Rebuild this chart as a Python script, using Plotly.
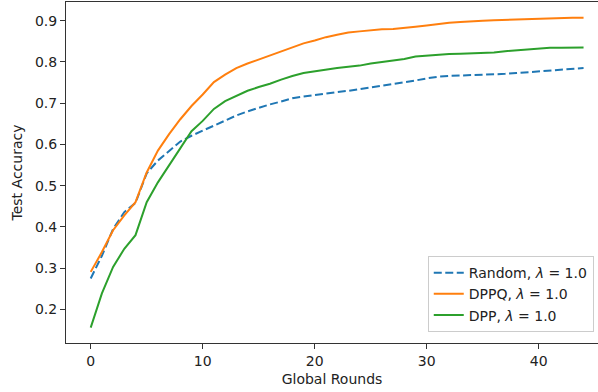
import plotly.graph_objects as go

rounds = list(range(45))

random_acc = [0.275, 0.330, 0.395, 0.436, 0.458, 0.530, 0.561, 0.585, 0.607, 0.621,
              0.633, 0.646, 0.658, 0.670, 0.680, 0.689, 0.697, 0.704, 0.712, 0.716,
              0.720, 0.723, 0.727, 0.730, 0.734, 0.738, 0.743, 0.747, 0.751, 0.755,
              0.760, 0.764, 0.766, 0.767, 0.768, 0.768, 0.769, 0.771, 0.773, 0.775,
              0.776, 0.778, 0.780, 0.782, 0.785]

dppq_acc = [0.291, 0.339, 0.392, 0.428, 0.460, 0.532, 0.585, 0.625, 0.661, 0.693,
            0.721, 0.751, 0.769, 0.785, 0.796, 0.806, 0.815, 0.826, 0.836, 0.845,
            0.852, 0.860, 0.866, 0.871, 0.874, 0.877, 0.879, 0.880, 0.882, 0.885,
            0.888, 0.892, 0.895, 0.897, 0.899, 0.900, 0.901, 0.902, 0.903, 0.904,
            0.905, 0.906, 0.906, 0.907, 0.907]

dpp_acc = [0.156, 0.239, 0.303, 0.347, 0.380, 0.460, 0.508, 0.549, 0.593, 0.632,
           0.657, 0.686, 0.705, 0.718, 0.730, 0.739, 0.747, 0.757, 0.766, 0.773,
           0.777, 0.782, 0.785, 0.788, 0.791, 0.796, 0.800, 0.803, 0.807, 0.813,
           0.815, 0.818, 0.819, 0.820, 0.821, 0.822, 0.823, 0.826, 0.828, 0.831,
           0.833, 0.834, 0.834, 0.834, 0.835]

series_names = ["Random, <i>λ</i> = 1.0", "DPPQ, <i>λ</i> = 1.0", "DPP, <i>λ</i> = 1.0"]
x_ticks = [0, 10, 20, 30, 40]
y_ticks = [0.2, 0.3, 0.4, 0.5, 0.6, 0.7, 0.8, 0.9]

fig = go.Figure()
fig.add_trace(go.Scatter(x=rounds, y=random_acc, mode="lines", name=series_names[0],
                         line=dict(color="#1f77b4", width=2, dash="8px,3.5px")))
fig.add_trace(go.Scatter(x=rounds, y=dppq_acc, mode="lines", name=series_names[1],
                         line=dict(color="#ff7f0e", width=2)))
fig.add_trace(go.Scatter(x=rounds, y=dpp_acc, mode="lines", name=series_names[2],
                         line=dict(color="#2ca02c", width=2)))

txt = dict(family="DejaVu Sans", size=14, color="#222222")

fig.update_layout(
    width=598, height=392,
    margin=dict(l=66, r=0, t=2, b=49),
    plot_bgcolor="white", paper_bgcolor="white",
    font=txt,
    showlegend=True,
    legend=dict(x=0.68, y=0.255, xanchor="left", yanchor="top",
                bgcolor="rgba(255,255,255,0.8)", bordercolor="#cccccc", borderwidth=1,
                font=txt),
    xaxis=dict(range=[-2.205, 45.29], tickvals=x_ticks, showgrid=False, zeroline=False,
               showline=True, linecolor="#333333", linewidth=1, mirror=True,
               ticks="outside", ticklen=5, tickcolor="#333333", tickfont=txt,
               title=dict(text="Global Rounds", standoff=6, font=txt)),
    yaxis=dict(range=[0.1186, 0.9452], tickvals=y_ticks, tickformat=".1f",
               showgrid=False, zeroline=False,
               showline=True, linecolor="#333333", linewidth=1,
               ticks="outside", ticklen=5, tickcolor="#333333", tickfont=txt,
               title=dict(text="Test Accuracy", standoff=9, font=txt)),
)

fig.write_html("out.html", config={"displayModeBar": False},
               post_script="document.body.style.margin='0';")
